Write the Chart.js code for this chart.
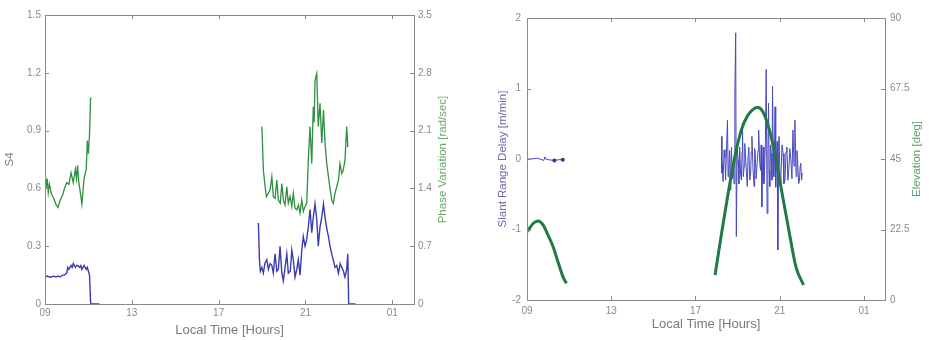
<!DOCTYPE html>
<html>
<head>
<meta charset="utf-8">
<script src="https://cdn.jsdelivr.net/npm/chart.js@4/dist/chart.umd.min.js"></script>
<style>
body { margin: 0; background: #fff; }
#wrap { position: relative; width: 929px; height: 340px; overflow: hidden; }
#graficoS4 { position: absolute; left: 0; top: 0; }
#graficoAtraso { position: absolute; left: 465px; top: 0; }
</style>
</head>
<body>
<div id="wrap">
    <canvas id="graficoS4" width="465" height="340"></canvas>
    <canvas id="graficoAtraso" width="464" height="340"></canvas>
</div>
<script>
// eixos
var hourTicks = [9, 13, 17, 21, 25];
var hourLabels = ['09', '13', '17', '21', '01'];
var s4Ticks = [0, 0.3, 0.6, 0.9, 1.2, 1.5];
var phaseTicks = [0, 0.7, 1.4, 2.1, 2.8, 3.5];
var delayTicks = [-2, -1, 0, 1, 2];
var elevTicks = [0, 22.5, 45, 67.5, 90];

// painel esquerdo: S4 (null = sem dados)
var s4Hours = [9.0, 9.1, 9.2, 9.3, 9.4, 9.5, 9.6, 9.7, 9.8, 9.9, 10.0, 10.05, 10.1, 10.2, 10.25, 10.3, 10.4, 10.45, 10.5, 10.6, 10.65, 10.7, 10.8, 10.9, 10.95, 11.0, 11.05, 11.1, 11.12, 11.5,
    15,
    18.83, 18.88, 18.92, 18.99, 19.06, 19.13, 19.22, 19.29, 19.37, 19.45, 19.52, 19.60, 19.68, 19.75, 19.83, 19.91, 19.98, 20.06, 20.14, 20.21, 20.3, 20.37, 20.45, 20.52, 20.6, 20.67, 20.75, 20.83, 20.90, 20.98, 21.05, 21.13, 21.21, 21.29, 21.36, 21.44, 21.52, 21.59, 21.67, 21.75, 21.83, 21.90, 22.0, 22.06, 22.13, 22.21, 22.3, 22.36, 22.44, 22.52, 22.6, 22.67, 22.75, 22.82, 22.90, 22.95, 22.99, 23.3];
var s4Vals = [0.14, 0.145, 0.14, 0.14, 0.145, 0.14, 0.145, 0.14, 0.15, 0.15, 0.16, 0.19, 0.18, 0.2, 0.19, 0.21, 0.19, 0.2, 0.2, 0.19, 0.2, 0.18, 0.2, 0.18, 0.19, 0.17, 0.15, 0.01, 0, 0,
    null,
    0.42, 0.23, 0.17, 0.19, 0.16, 0.21, 0.23, 0.18, 0.21, 0.2, 0.16, 0.26, 0.17, 0.18, 0.30, 0.16, 0.12, 0.19, 0.26, 0.16, 0.17, 0.28, 0.22, 0.14, 0.18, 0.23, 0.15, 0.28, 0.35, 0.30, 0.33, 0.40, 0.49, 0.37, 0.45, 0.52, 0.44, 0.30, 0.40, 0.45, 0.52, 0.45, 0.38, 0.35, 0.30, 0.26, 0.22, 0.19, 0.2, 0.16, 0.21, 0.19, 0.17, 0.14, 0.18, 0.26, 0, 0];

// painel esquerdo: variação de fase [rad/sec]
var phaseHours = [9.0, 9.05, 9.1, 9.15, 9.2, 9.3, 9.4, 9.5, 9.6, 9.7, 9.8, 9.9, 10.0, 10.1, 10.2, 10.3, 10.4, 10.45, 10.5, 10.55, 10.6, 10.7, 10.8, 10.9, 10.95, 11.0, 11.05, 11.1,
    15,
    18.99, 19.02, 19.06, 19.14, 19.2, 19.29, 19.37, 19.45, 19.52, 19.6, 19.68, 19.75, 19.84, 19.91, 19.98, 20.06, 20.14, 20.21, 20.29, 20.37, 20.44, 20.52, 20.60, 20.68, 20.75, 20.83, 20.9, 20.98, 21.06, 21.13, 21.21, 21.29, 21.36, 21.4, 21.44, 21.52, 21.59, 21.67, 21.75, 21.83, 21.90, 21.98, 22.06, 22.13, 22.21, 22.28, 22.36, 22.44, 22.52, 22.59, 22.67, 22.74, 22.82, 22.90, 22.95];
var phaseVals = [1.66, 1.4, 1.52, 1.35, 1.45, 1.33, 1.28, 1.21, 1.17, 1.26, 1.31, 1.4, 1.47, 1.45, 1.59, 1.47, 1.63, 1.52, 1.68, 1.49, 1.4, 1.21, 1.52, 1.63, 1.98, 1.82, 2.05, 2.5,
    null,
    2.15, 1.95, 1.62, 1.42, 1.3, 1.34, 1.38, 1.54, 1.30, 1.28, 1.50, 1.26, 1.22, 1.46, 1.26, 1.2, 1.42, 1.22, 1.3, 1.18, 1.34, 1.16, 1.14, 1.2, 1.10, 1.26, 1.12, 1.18, 1.22, 1.74, 2.15, 1.70, 2.39, 2.2, 2.71, 2.79, 2.15, 2.43, 1.95, 2.35, 1.95, 1.7, 1.54, 1.4, 1.26, 1.22, 1.34, 1.42, 1.50, 1.70, 1.58, 1.62, 1.74, 2.15, 1.90];

// painel direito: atraso de alcance inclinado [m/min]
var delayHours = [9.0, 9.2, 9.5, 9.8, 9.85, 9.9, 10.0, 10.3, 10.5, 10.7, 10.76,
    15,
    18.24, 18.255, 18.27, 18.31, 18.36, 18.40, 18.43, 18.47, 18.52, 18.55, 18.58, 18.62, 18.65, 18.68, 18.71, 18.75, 18.79, 18.83, 18.87, 18.91, 18.94, 18.98,
    19.02, 19.06, 19.10, 19.14, 19.18, 19.21, 19.23, 19.27, 19.31, 19.34, 19.37, 19.42, 19.46, 19.50, 19.53, 19.58, 19.62, 19.65, 19.68, 19.73, 19.78, 19.81, 19.84, 19.88, 19.93, 19.97,
    20.00, 20.05, 20.09, 20.12, 20.15, 20.19, 20.22, 20.25, 20.28, 20.32, 20.36, 20.40, 20.44, 20.47, 20.50, 20.53, 20.56, 20.59, 20.63, 20.66, 20.69, 20.72, 20.75, 20.78, 20.81, 20.84, 20.88, 20.91, 20.94, 20.97,
    21.02, 21.06, 21.11, 21.16, 21.20, 21.25, 21.30, 21.34, 21.39, 21.44, 21.48, 21.53, 21.58, 21.63, 21.68, 21.72, 21.75, 21.78, 21.82, 21.85, 21.90, 21.94, 21.97, 22.00, 22.04, 22.07];
var delayVals = [0, 0, 0.01, -0.02, 0.03, 0, -0.01, -0.02, -0.01, -0.01, 0,
    null,
    0.32, -0.2, -0.06, -0.32, 0.13, 0.02, -0.30, 0.1, 0.55, -0.25, -0.16, 0.12, -0.44, -0.1, 0.17, -0.28, -0.06, -0.35, 0.93, 1.79, -1.10, 0.2,
    -0.01, -0.35, 0.17, -0.22, -0.30, 0.1, 0.51, -0.25, -0.11, 0.22, 0.08, -0.18, -0.39, 0.05, 0.17, -0.3, -0.20, 0.1, 0.32, -0.12, -0.39, 0.15, 0.08, -0.28, -0.06, 0.12,
    0.41, -0.05, -0.16, 0.2, -0.68, -0.1, 0.17, -0.35, -0.16, 0.25, 1.27, -0.77, 0.1, 0.79, -0.15, -0.39, 0.2, 0.08, -0.3, 1.03, 0.15, -0.25, 0.05, 0.74, -0.4, -0.01, 0.25, -1.29, -0.2, 0.32,
    -0.38, -0.20, 0.2, 0.08, -0.35, -0.30, 0.1, 0.17, -0.3, -0.11, 0.15, -0.01, -0.28, 0.41, -0.1, 0.55, 0.1, -0.25, 0.12, -0.01, -0.35, -0.30, -0.1, -0.06, -0.3, -0.20];
var delayMarkers = [10.3, 10.7];

// painel direito: elevação [deg]
var elevHours = [9.01, 9.30, 9.53, 9.77, 10.0, 10.24, 10.47, 10.71, 10.87,
    15,
    17.93, 18.24, 18.55, 18.87, 19.18, 19.49, 19.81, 19.96, 20.2, 20.51, 20.83, 21.14, 21.46, 21.77, 22.13];
var elevVals = [21.8, 24.5, 25.2, 23.9, 20.7, 17.0, 12.2, 7.4, 5.3,
    null,
    8.0, 21.3, 34.0, 45.7, 54.3, 59.0, 61.2, 61.4, 60.1, 54.3, 44.7, 33.0, 21.3, 10.6, 4.8];

var corTexto = '#8a8a8a';
var fonte = 'Liberation Sans';

function pontos(hrs, vals) {
    return hrs.map(function (h, i) { return { x: h, y: vals[i] }; });
}

function fmtNum(v) {
    return String(Math.round(v * 10) / 10);
}

// moldura estilo MATLAB, ticks para dentro e título do eixo direito
var moldura = {
    id: 'moldura',
    afterDraw: function (chart, args, opts) {
        var a = chart.chartArea;
        var ctx = chart.ctx;
        var L = 4;
        ctx.save();
        ctx.strokeStyle = '#8a8a8a';
        ctx.lineWidth = 1;
        ctx.strokeRect(Math.round(a.left) + 0.5, Math.round(a.top) + 0.5, Math.round(a.right - a.left), Math.round(a.bottom - a.top));
        ctx.beginPath();
        var sx = chart.scales.x;
        sx.ticks.forEach(function (t) {
            var px = Math.round(sx.getPixelForValue(t.value)) + 0.5;
            ctx.moveTo(px, a.bottom); ctx.lineTo(px, a.bottom - L);
            ctx.moveTo(px, a.top); ctx.lineTo(px, a.top + L);
        });
        var yl = chart.scales.y;
        yl.ticks.forEach(function (t) {
            var py = Math.round(yl.getPixelForValue(t.value)) + 0.5;
            ctx.moveTo(a.left, py); ctx.lineTo(a.left + L, py);
        });
        var yr = chart.scales.y2;
        yr.ticks.forEach(function (t) {
            var py = Math.round(yr.getPixelForValue(t.value)) + 0.5;
            ctx.moveTo(a.right, py); ctx.lineTo(a.right - L, py);
        });
        ctx.stroke();

        ctx.translate(opts.tituloX, (a.top + a.bottom) / 2);
        ctx.rotate(-Math.PI / 2);
        ctx.fillStyle = opts.cor;
        ctx.font = '11.5px "' + fonte + '"';
        ctx.textAlign = 'center';
        ctx.textBaseline = 'middle';
        ctx.fillText(opts.titulo, 0, 0);
        ctx.restore();
    }
};

function eixoX(altura, padTick, padTitulo) {
    return {
        type: 'linear',
        position: 'bottom',
        min: 9,
        max: 26,
        grid: { display: false, drawTicks: false },
        border: { display: false },
        afterBuildTicks: function (s) { s.ticks = hourTicks.map(function (v) { return { value: v }; }); },
        ticks: {
            color: corTexto,
            font: { size: 10, family: fonte },
            padding: padTick,
            maxRotation: 0,
            autoSkip: false,
            callback: function (v) { return hourLabels[hourTicks.indexOf(v)]; }
        },
        title: { display: true, text: 'Local Time [Hours]', color: '#7a7a7a', font: { size: 13, family: fonte }, padding: { top: 0, bottom: padTitulo } },
        afterFit: function (s) { s.height = altura; }
    };
}

function eixoY(pos, lista, largura, padTick, titulo) {
    var eixo = {
        type: 'linear',
        position: pos,
        min: lista[0],
        max: lista[lista.length - 1],
        grid: { display: false, drawTicks: false },
        border: { display: false },
        afterBuildTicks: function (s) { s.ticks = lista.map(function (v) { return { value: v }; }); },
        ticks: { color: corTexto, font: { size: 10, family: fonte }, padding: padTick, callback: fmtNum },
        afterFit: function (s) { s.width = largura; }
    };
    if (titulo) eixo.title = titulo;
    return eixo;
}

new Chart(document.getElementById('graficoS4'), {
    type: 'line',
    data: {
        datasets: [
            {
                label: 'S4',
                data: pontos(s4Hours, s4Vals),
                yAxisID: 'y',
                borderColor: '#3b3bb0',
                borderWidth: 1.4,
                pointRadius: 0,
                tension: 0
            },
            {
                label: 'Phase Variation',
                data: pontos(phaseHours, phaseVals),
                yAxisID: 'y2',
                borderColor: '#2f8f40',
                borderWidth: 1.3,
                pointRadius: 0,
                tension: 0
            }
        ]
    },
    options: {
        responsive: false,
        animation: false,
        layout: { padding: { top: 15, left: 0, right: 0, bottom: 0 } },
        plugins: {
            legend: { display: false },
            tooltip: { enabled: false },
            moldura: { titulo: 'Phase Variation [rad/sec]', cor: '#6aa86a', tituloX: 443 }
        },
        scales: {
            x: eixoX(36, 3, 2),
            y: eixoY('left', s4Ticks, 45, 4, { display: true, text: 'S4', color: '#7a7a7a', font: { size: 11.5, family: fonte }, padding: { top: 3, bottom: 0 } }),
            y2: eixoY('right', phaseTicks, 51, 4, null)
        }
    },
    plugins: [moldura]
});

new Chart(document.getElementById('graficoAtraso'), {
    type: 'line',
    data: {
        datasets: [
            {
                label: 'Elevation',
                data: pontos(elevHours, elevVals),
                yAxisID: 'y2',
                borderColor: '#1f7a45',
                borderWidth: 3,
                pointRadius: 0,
                cubicInterpolationMode: 'monotone'
            },
            {
                label: 'Slant Range Delay',
                data: pontos(delayHours, delayVals),
                yAxisID: 'y',
                borderColor: '#4848c0',
                borderWidth: 1,
                pointRadius: function (c) {
                    return c.raw && delayMarkers.indexOf(c.raw.x) >= 0 ? 2 : 0;
                },
                pointBackgroundColor: '#3a3a90',
                pointBorderWidth: 0,
                tension: 0
            }
        ]
    },
    options: {
        responsive: false,
        animation: false,
        layout: { padding: { top: 18, left: 0, right: 0, bottom: 0 } },
        plugins: {
            legend: { display: false },
            tooltip: { enabled: false },
            moldura: { titulo: 'Elevation [deg]', cor: '#5a9f6a', tituloX: 452 }
        },
        scales: {
            x: eixoX(40, 5, 8),
            y: eixoY('left', delayTicks, 62, 6, { display: true, text: 'Slant Range Delay [m/min]', color: '#6a6aa8', font: { size: 11.5, family: fonte }, padding: { top: 31, bottom: 0 } }),
            y2: eixoY('right', elevTicks, 44, 5, null)
        }
    },
    plugins: [moldura]
});
</script>
</body>
</html>
